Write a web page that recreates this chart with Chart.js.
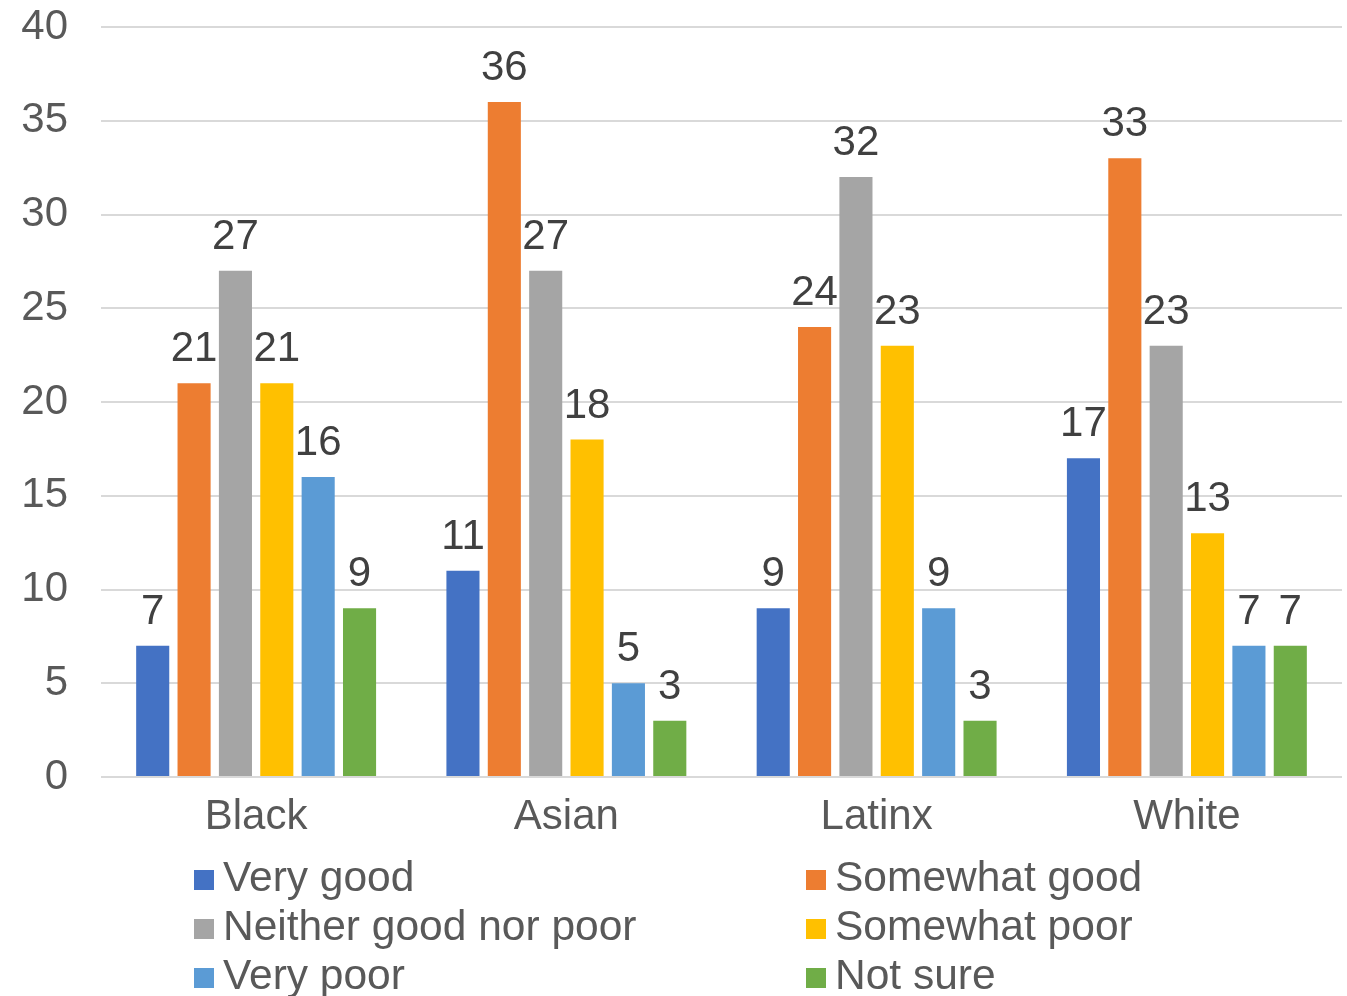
<!DOCTYPE html>
<html>
<head>
<meta charset="utf-8">
<script src="https://cdn.jsdelivr.net/npm/chart.js@4.4.0/dist/chart.umd.min.js"></script>
<style>
html,body{margin:0;padding:0;background:#fff;}
#wrap{width:1347px;height:996px;position:relative;}
</style>
</head>
<body>
<div id="wrap"><canvas id="c" width="1347" height="996"></canvas></div>
<script>
const categories = ["Black", "Asian", "Latinx", "White"];
const seriesNames = ["Very good", "Somewhat good", "Neither good nor poor", "Somewhat poor", "Very poor", "Not sure"];
const veryGood = [7, 11, 9, 17];
const somewhatGood = [21, 36, 24, 33];
const neither = [27, 27, 32, 23];
const somewhatPoor = [21, 18, 23, 13];
const veryPoor = [16, 5, 9, 7];
const notSure = [9, 3, 3, 7];
const yTicks = [0, 5, 10, 15, 20, 25, 30, 35, 40];
const colors = ["#4472C4", "#ED7D31", "#A5A5A5", "#FFC000", "#5B9BD5", "#70AD47"];

const FONT = "'Liberation Sans', Arial, Helvetica, sans-serif";
const FS = 42;
const LFS = 42.5;
const values = [veryGood, somewhatGood, neither, somewhatPoor, veryPoor, notSure];

const dataLabels = {
  id: 'dataLabels',
  afterDatasetsDraw(chart) {
    const ctx = chart.ctx;
    ctx.save();
    ctx.font = FS + "px " + FONT;
    ctx.fillStyle = "#404040";
    ctx.textAlign = "center";
    ctx.textBaseline = "alphabetic";
    chart.data.datasets.forEach((ds, i) => {
      const meta = chart.getDatasetMeta(i);
      meta.data.forEach((bar, j) => {
        ctx.fillText(String(ds.data[j]), bar.x, bar.y - 22);
      });
    });
    ctx.restore();
  }
};

const gridLegend = {
  id: 'gridLegend',
  afterDraw(chart) {
    const ctx = chart.ctx;
    ctx.save();
    ctx.font = LFS + "px " + FONT;
    ctx.textAlign = "left";
    ctx.textBaseline = "middle";
    const colX = [194, 806];
    const rowY = [880, 929, 978];
    chart.data.datasets.forEach((ds, i) => {
      const x = colX[i % 2];
      const y = rowY[Math.floor(i / 2)];
      ctx.fillStyle = ds.backgroundColor;
      ctx.fillRect(x, y - 10, 20, 20);
      ctx.fillStyle = "#595959";
      ctx.fillText(ds.label, x + 29, y - 1);
    });
    ctx.restore();
  }
};

new Chart(document.getElementById('c'), {
  type: 'bar',
  data: {
    labels: categories,
    datasets: seriesNames.map((n, i) => ({
      label: n,
      data: values[i],
      backgroundColor: colors[i],
      barPercentage: 0.8,
      categoryPercentage: 0.8
    }))
  },
  options: {
    responsive: false,
    animation: false,
    layout: { padding: { top: 27, right: 5, bottom: 151, left: 0 } },
    plugins: { legend: { display: false }, tooltip: { enabled: false } },
    scales: {
      x: {
        grid: { display: false, drawTicks: false },
        border: { display: false },
        ticks: { color: "#595959", font: { family: FONT, size: FS }, padding: 15 },
        afterFit(s) { s.height = 68; s.paddingLeft = 0; s.paddingRight = 0; }
      },
      y: {
        min: 0, max: 40,
        afterBuildTicks(s) { s.ticks = yTicks.map(v => ({ value: v })); },
        grid: { color: "#D9D9D9", lineWidth: 2, drawTicks: false },
        border: { display: false },
        ticks: { color: "#595959", font: { family: FONT, size: FS }, padding: 33 },
        afterFit(s) { s.width = 101; s.paddingTop = 0; s.paddingBottom = 0; }
      }
    }
  },
  plugins: [dataLabels, gridLegend]
});
</script>
</body>
</html>
